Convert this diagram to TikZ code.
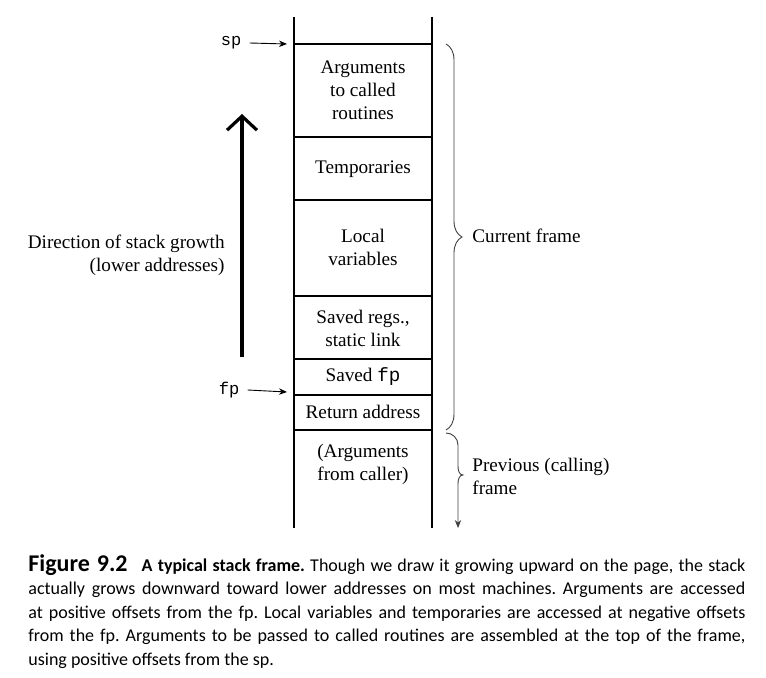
\documentclass[tikz,border=0pt]{standalone}
\usepackage{fontspec}
\setmainfont{Liberation Serif}
\setmonofont{Liberation Mono}
\newfontfamily\capfont{Carlito}
\usetikzlibrary{arrows.meta,positioning,decorations.pathreplacing}
\newcommand\cellfont{\fontsize{9.6}{11.5}\selectfont}
\tikzset{
  cell/.style={align=center,font=\cellfont,inner sep=0pt},
  note/.style={font=\cellfont,inner sep=0pt},
  regname/.style={font=\ttfamily\fontsize{8.5}{10}\selectfont,inner sep=0pt},
  wall/.style={line width=0.75pt},
  ptr/.style={-{Stealth[length=4pt,width=3.2pt]},line width=0.45pt},
  growth/.style={line width=2pt,-{Straight Barb[length=7pt,width=15pt,line width=1.6pt]}},
  framebrace/.style={decorate,decoration={brace,amplitude=8pt},line width=0.45pt,black!75},
  caption/.style={text width=358.5pt,align=justify,inner sep=0pt,
    font=\capfont\fontsize{9}{11.75}\selectfont},
}

\begin{document}
\begin{tikzpicture}[x=0.5pt,y=-0.5pt]
  \useasboundingbox (0,0) rectangle (766,678);

  % the stack: two walls and the dividers between the slots
  \draw[wall] (294,17) -- (294,528);
  \draw[wall] (432,17) -- (432,528);
  \foreach \y in {44,137,200,296,359,395,430}
    \draw[wall] (294,\y) -- (432,\y);

  \node[cell] (args) at (363,90) {Arguments\\to called\\routines};
  \node[cell] (temps) at (363,169) {Temporaries};
  \node[cell] (locals) at (363,247) {Local\\variables};
  \node[cell] (saved) at (363,328) {Saved regs.,\\static link};
  \node[cell] (savedfp) at (363,377) {Saved \texttt{fp}};
  \node[cell] (retaddr) at (363,412) {Return address};
  \node[cell] (callerargs) at (363,464) {(Arguments\\from caller)};

  % sp and fp
  \node[regname] (sp) at (231,43) {sp};
  \coordinate (sp tip) at (287,44);
  \draw[ptr] (sp.east) ++(8,0) coordinate (sp tail) (sp tail) -- (sp tip);
  \node[regname] (fp) at (229,390) {fp};
  \coordinate (fp tip) at (287,392);
  \draw[ptr] (fp.east) ++(8,0) coordinate (fp tail) (fp tail) -- (fp tip);

  % growth
  \coordinate (growth tail) at (242,357);
  \coordinate (growth head) at (242,114);
  \draw[growth] (growth tail) -- (growth head);
  \node[note,align=right,anchor=east] (growthtext) at (225,255)
    {Direction of stack growth\\(lower addresses)};

  % frames
  \coordinate (cur top) at (446,44);
  \coordinate (cur bot) at (446,430);
  \draw[framebrace] (cur top) -- (cur bot);
  \node[note,anchor=west] (curframe) at (472,236) {Current frame};

  \coordinate (prev top) at (446,433);
  \coordinate (prev end) at (458,528);
  \draw[ptr,black!75] (prev top) to[out=0,in=90] (458,445) -- (458,466)
    to[out=-90,in=180] (463,475) to[out=180,in=90] (458,484) -- (prev end);
  \node[note,align=left,anchor=west] (prevframe) at (472,476)
    {Previous (calling)\\frame};

  % caption
  \node[caption,anchor=north west] (cap) at (28,554)
    {\frenchspacing{\bfseries\fontsize{12}{11.75}\selectfont Figure 9.2}\hspace{7pt}{\bfseries A typical stack frame.}
    Though we draw it growing upward on the page, the stack\linebreak
    actually grows downward toward lower addresses on most machines. Arguments are accessed\linebreak
    at positive offsets from the fp. Local variables and temporaries are accessed at negative offsets\linebreak
    from the fp. Arguments to be passed to called routines are assembled at the top of the frame,\linebreak
    using positive offsets from the sp.};
\end{tikzpicture}
\end{document}
